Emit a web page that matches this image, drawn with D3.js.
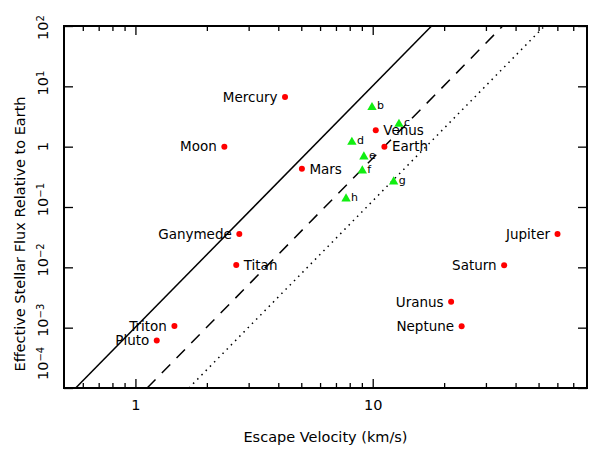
<!DOCTYPE html>
<html>
<head>
<meta charset="utf-8">
<script src="https://cdn.jsdelivr.net/npm/d3@7"></script>
<style>
  body { margin: 0; background: #fff; }
  svg { display: block; font-family: "DejaVu Sans", sans-serif; }
</style>
</head>
<body>
<div id="chart"></div>
<script>
// Solar system bodies (escape velocity km/s, effective flux relative to Earth)
const bodyNames = ["Mercury", "Moon", "Mars", "Venus", "Earth", "Ganymede", "Titan",
                   "Triton", "Pluto", "Jupiter", "Saturn", "Uranus", "Neptune"];
const bodyVel  = [4.27, 2.37, 5.03, 10.3, 11.2, 2.74, 2.66, 1.46, 1.23, 60.1, 35.8, 21.4, 23.7];
const bodyFlux = [6.65, 1.0, 0.43, 1.88, 1.0, 0.0356, 0.0109, 0.00107, 0.000614, 0.0356, 0.0108, 0.00268, 0.00106];

// TRAPPIST-1 planets
const planetNames = ["b", "c", "d", "e", "f", "g", "h"];
const planetVel  = [9.93, 12.9, 8.17, 9.18, 9.04, 12.25, 7.72];
const planetFlux = [4.49, 2.37, 1.19, 0.68, 0.40, 0.262, 0.137];

// Reference lines, endpoints read at bottom and top of the plot
const solidLine  = [[0.56, 1e-4], [17.7, 1e2]];
const dashedLine = [[1.12, 1e-4], [35.3, 1e2]];
const dottedLine = [[1.68, 1e-4], [53.0, 1e2]];

// Axis ticks
const xMajorTicks = [1, 10];
const xMinorTicks = [0.6, 0.7, 0.8, 0.9, 2, 3, 4, 5, 6, 7, 8, 9, 20, 30, 40, 50, 60, 70];
const yTicks = [1e-4, 1e-3, 1e-2, 1e-1, 1, 10, 100];
const yTickExp = ["\u22124", "\u22123", "\u22122", "\u22121", "", "1", "2"];

const W = 590, H = 452;
const margin = { top: 26, right: 3, bottom: 64, left: 64 };
const width = W - margin.left - margin.right;
const height = H - margin.top - margin.bottom;

const x = d3.scaleLog().domain([0.5, 80]).range([0, width]);
const y = d3.scaleLog().domain([1e-4, 1e2]).range([height, 0]);

const svg = d3.select("#chart").append("svg")
    .attr("width", W).attr("height", H);
const g = svg.append("g")
    .attr("transform", "translate(" + margin.left + "," + margin.top + ")");

g.append("clipPath").attr("id", "clip")
    .append("rect").attr("width", width).attr("height", height);

// ticks (inward), all four sides
function styleAxis(sel) {
    sel.select(".domain").remove();
    sel.selectAll("line").attr("stroke", "#000").attr("stroke-width", 1.3);
}
g.append("g").attr("transform", "translate(0," + height + ")")
    .call(d3.axisBottom(x).tickValues(xMajorTicks).tickSize(-9).tickPadding(12)
        .tickFormat(d3.format("d")))
    .call(styleAxis)
    .selectAll("text").attr("font-size", 14.5).attr("fill", "#000")
    .attr("font-family", "DejaVu Sans");
g.append("g").attr("transform", "translate(0," + height + ")")
    .call(d3.axisBottom(x).tickValues(xMinorTicks).tickSize(-5).tickFormat(""))
    .call(styleAxis);
g.append("g")
    .call(d3.axisTop(x).tickValues(xMajorTicks).tickSize(-9).tickFormat(""))
    .call(styleAxis);
g.append("g")
    .call(d3.axisTop(x).tickValues(xMinorTicks).tickSize(-5).tickFormat(""))
    .call(styleAxis);
g.append("g")
    .call(d3.axisLeft(y).tickValues(yTicks).tickSize(-9).tickFormat(""))
    .call(styleAxis);
g.append("g").attr("transform", "translate(" + width + ",0)")
    .call(d3.axisRight(y).tickValues(yTicks).tickSize(-9).tickFormat(""))
    .call(styleAxis);

// y tick labels, rotated, with superscript exponents
yTicks.forEach(function (v, i) {
    const t = svg.append("text")
        .attr("transform", "translate(" + (margin.left - 16) + "," + (margin.top + y(v)) + ") rotate(-90)")
        .attr("font-size", 14.5);
    if (yTickExp[i] === "") {
        t.attr("text-anchor", "middle").text("1");
        return;
    }
    let start = -9.2;
    if (i === 0) start = 8;
    if (i === yTicks.length - 1) start = -14;
    t.attr("x", start).text("10");
    t.append("tspan").attr("dy", "-0.45em").attr("font-size", 10).text(yTickExp[i]);
});

// reference lines
const line = d3.line().x(d => x(d[0])).y(d => y(d[1]));
const lines = g.append("g").attr("clip-path", "url(#clip)")
    .attr("fill", "none").attr("stroke", "#000").attr("stroke-width", 1.5);
lines.append("path").attr("d", line(solidLine));
lines.append("path").attr("d", line(dashedLine)).attr("stroke-dasharray", "12,9");
lines.append("path").attr("d", line(dottedLine)).attr("stroke-dasharray", "1.5,4.5");

// solar system bodies
const rightLabeled = new Set(["Mars", "Venus", "Earth", "Titan"]);
bodyNames.forEach(function (name, i) {
    const cx = x(bodyVel[i]), cy = y(bodyFlux[i]);
    g.append("circle").attr("cx", cx).attr("cy", cy).attr("r", 3).attr("fill", "#ff0000");
    const right = rightLabeled.has(name);
    g.append("text")
        .attr("x", right ? cx + 7.5 : cx - 7.5).attr("y", cy).attr("dy", "0.35em")
        .attr("text-anchor", right ? "start" : "end")
        .attr("font-size", 13.5).text(name);
});

// TRAPPIST-1 planets
const tri = d3.symbol().type(d3.symbolTriangle).size(38);
planetNames.forEach(function (name, i) {
    const px = x(planetVel[i]), py = y(planetFlux[i]);
    g.append("path").attr("d", tri).attr("transform", "translate(" + px + "," + py + ")")
        .attr("fill", "#11ee11");
    g.append("text").attr("x", px + 5).attr("y", py - 2).attr("dy", "0.35em")
        .attr("font-size", 11).text(name);
});

// frame
g.append("rect").attr("width", width).attr("height", height)
    .attr("fill", "none").attr("stroke", "#000").attr("stroke-width", 2);

// axis titles
svg.append("text").attr("x", margin.left + width / 2).attr("y", 442)
    .attr("text-anchor", "middle").attr("font-size", 14.5).text("Escape Velocity (km/s)");
svg.append("text").attr("transform", "translate(25,234) rotate(-90)")
    .attr("text-anchor", "middle").attr("font-size", 14.5)
    .text("Effective Stellar Flux Relative to Earth");
</script>
</body>
</html>
